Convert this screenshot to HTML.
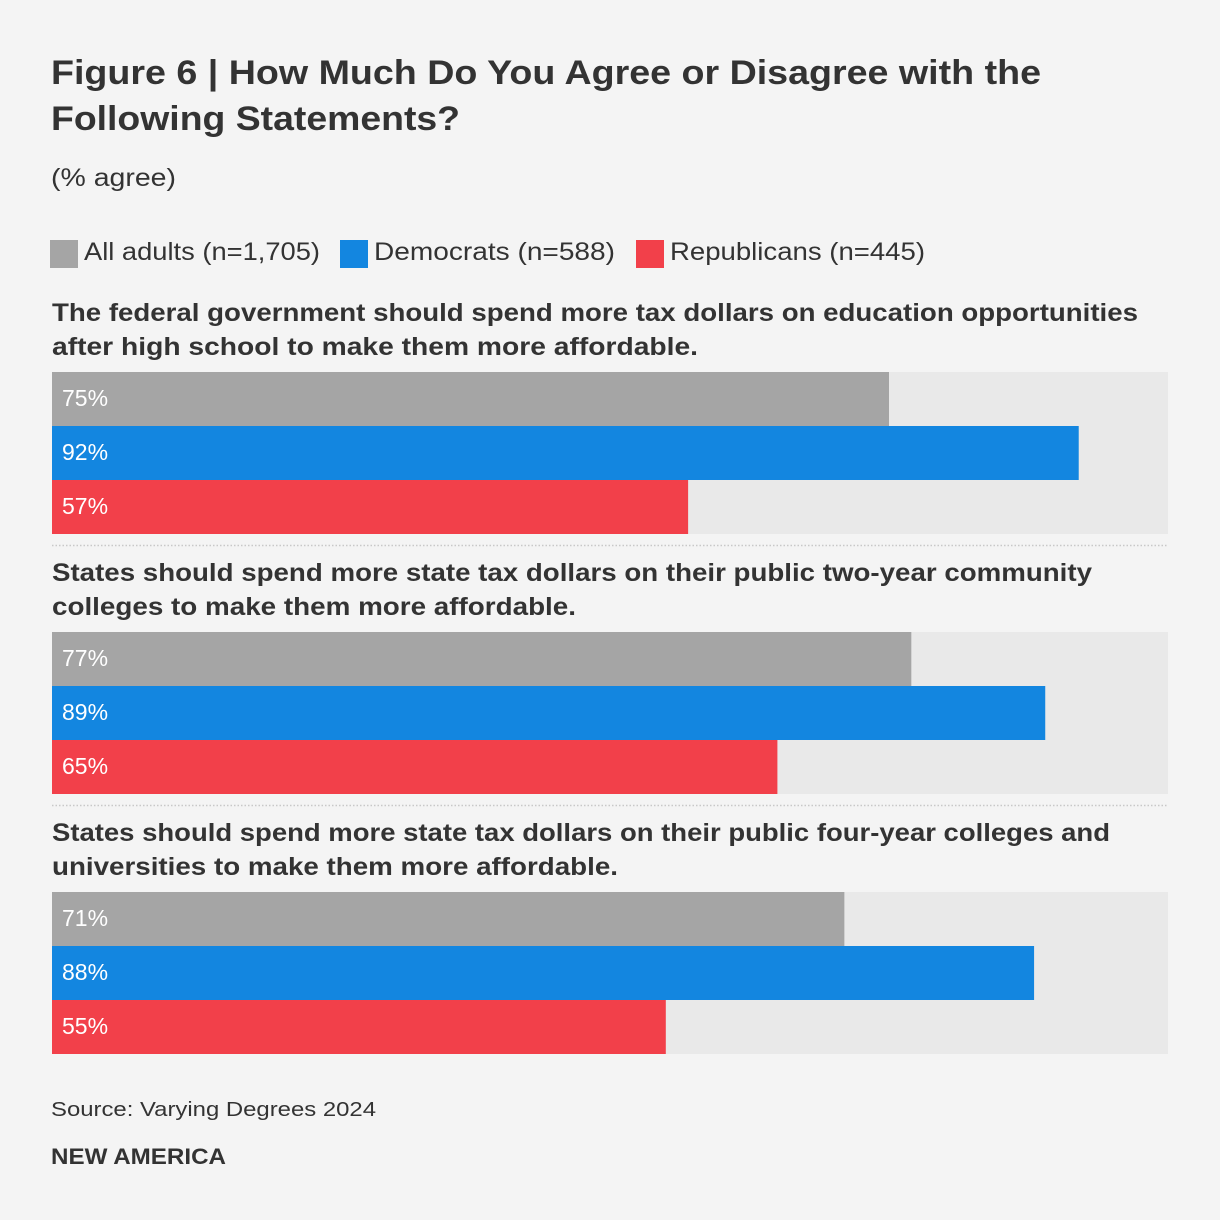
<!DOCTYPE html>
<html><head><meta charset="utf-8"><style>
html,body{margin:0;padding:0;background:#f4f4f4}
svg{display:block;font-family:"Liberation Sans",Arial,sans-serif}
</style></head><body>
<svg id="chart" width="1220" height="1220" viewBox="0 0 1220 1220">
<rect x="0" y="0" width="1220" height="1220" fill="#f4f4f4"/>
<text x="51" y="84" font-size="34" font-weight="bold" fill="#333" textLength="990" lengthAdjust="spacingAndGlyphs">Figure 6 | How Much Do You Agree or Disagree with the</text>
<text x="51" y="130" font-size="34" font-weight="bold" fill="#333" textLength="409" lengthAdjust="spacingAndGlyphs">Following Statements?</text>
<text x="51" y="186" font-size="25" fill="#333" textLength="125" lengthAdjust="spacingAndGlyphs">(% agree)</text>
<g>
<rect x="50" y="240" width="28" height="28" fill="#a5a5a5"/>
<text x="84" y="260" font-size="25" fill="#333" textLength="236" lengthAdjust="spacingAndGlyphs">All adults (n=1,705)</text>
<rect x="340" y="240" width="28" height="28" fill="#1386e0"/>
<text x="374" y="260" font-size="25" fill="#333" textLength="241" lengthAdjust="spacingAndGlyphs">Democrats (n=588)</text>
<rect x="636" y="240" width="28" height="28" fill="#f2404a"/>
<text x="670" y="260" font-size="25" fill="#333" textLength="255" lengthAdjust="spacingAndGlyphs">Republicans (n=445)</text>
</g>
<g id="groups"></g>
<text x="51" y="1116" font-size="20" fill="#333" textLength="325" lengthAdjust="spacingAndGlyphs">Source: Varying Degrees 2024</text>
<text x="51" y="1164" font-size="22" font-weight="bold" fill="#333" textLength="175" lengthAdjust="spacingAndGlyphs">NEW AMERICA</text>
</svg>
<script>
const questionLines = [
  ["The federal government should spend more tax dollars on education opportunities","after high school to make them more affordable."],
  ["States should spend more state tax dollars on their public two-year community","colleges to make them more affordable."],
  ["States should spend more state tax dollars on their public four-year colleges and","universities to make them more affordable."]
];
const allAdults = [75, 77, 71];
const democrats = [92, 89, 88];
const republicans = [57, 65, 55];
const seriesNames = ["all-adults","democrats","republicans"];
const seriesColors = ["#a5a5a5","#1386e0","#f2404a"];
const lineWidths = [[1086,646],[1040,524],[1058,566]];

const NS = "http://www.w3.org/2000/svg";
const g = document.getElementById("groups");
const x0 = 52, plotW = 1116;
function xScale(v){ return plotW * v / 100; }
const groupTop = [300, 560, 820];
function mk(tag, attrs){ const e = document.createElementNS(NS, tag); for (const k in attrs) e.setAttribute(k, attrs[k]); return e; }

for (let i = 0; i < questionLines.length; i++) {
  const top = groupTop[i];
  const grp = mk("g", {});
  
  
  g.appendChild(grp);
  questionLines[i].forEach((ln, j) => {
    const t = mk("text", {x: 52, y: top + 21 + j*34, "font-size": 25, "font-weight": "bold", fill: "#333", textLength: lineWidths[i][j], lengthAdjust: "spacingAndGlyphs"});
    
    
    t.textContent = ln;
    grp.appendChild(t);
  });
  const barTop = top + 72;
  const track = mk("rect", {x: x0, y: barTop, width: plotW, height: 162, fill: "#e9e9e9"});
  
  
  grp.appendChild(track);
  const vals = [allAdults[i], democrats[i], republicans[i]];
  vals.forEach((v, s) => {
    const y = barTop + s*54;
    const r = mk("rect", {x: x0, y: y, width: xScale(v), height: 54, fill: seriesColors[s]});
    
    
    grp.appendChild(r);
    const lbl = mk("text", {x: 62, y: y + 34, "font-size": 23, fill: "#fff"});
    
    
    lbl.textContent = v + "%";
    grp.appendChild(lbl);
  });
  if (i < questionLines.length - 1) {
    const sep = mk("line", {x1: 52, x2: 1168, y1: barTop + 173.5, y2: barTop + 173.5, stroke: "#c8c8c8", "stroke-width": 1.5, "stroke-dasharray": "1.5 2"});
    
    
    grp.appendChild(sep);
  }
}
</script>
</body></html>
